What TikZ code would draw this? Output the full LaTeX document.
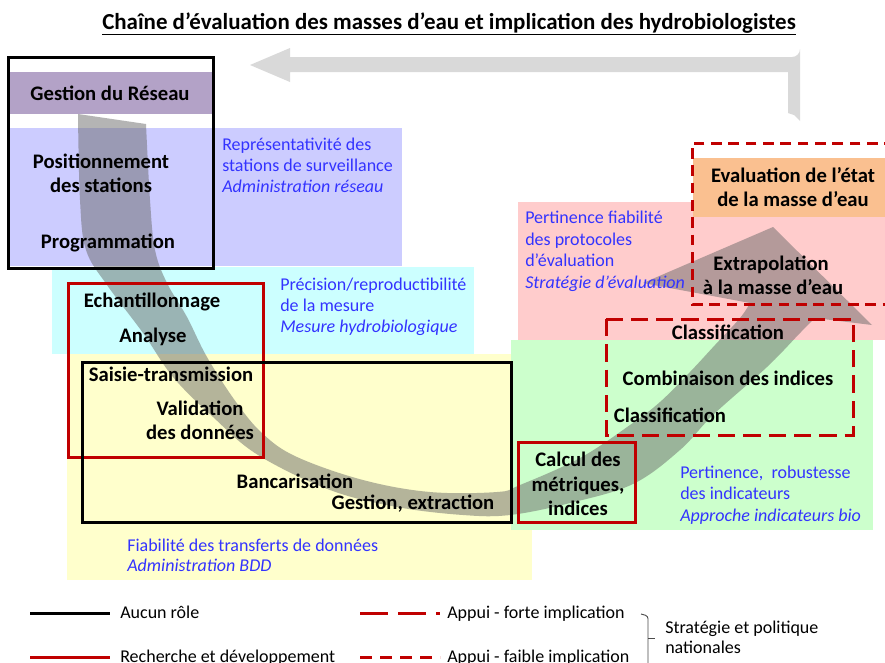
\documentclass[tikz,border=0pt]{standalone}
\usepackage{fontspec}
\setmainfont{Carlito}
\definecolor{lav}{HTML}{CCCCFF}
\definecolor{cyanz}{HTML}{CCFFFF}
\definecolor{yelz}{HTML}{FFFFCC}
\definecolor{pinkz}{HTML}{FFCCCC}
\definecolor{greenz}{HTML}{CCFFCC}
\definecolor{purpband}{HTML}{B3A2C7}
\definecolor{orgband}{HTML}{FAC090}
\definecolor{bluetxt}{HTML}{3333FF}
\definecolor{redl}{HTML}{C00000}
\definecolor{topgrey}{HTML}{D9D9D9}
\definecolor{arrgrey}{HTML}{646464}
\tikzset{
  lbl/.style={font=\fontsize{15.5}{18}\selectfont\bfseries, inner sep=0, anchor=base},
  note/.style={font=\fontsize{13.5}{16}\selectfont, text=bluetxt, inner sep=0, anchor=base west},
  noteit/.style={note, font=\fontsize{13.5}{16}\selectfont\itshape},
  legtxt/.style={font=\fontsize{13.5}{16}\selectfont, inner sep=0, anchor=base west},
  blackbox/.style={draw=black, line width=2.25pt},
  redbox/.style={draw=redl, line width=2.25pt},
  strongdash/.style={draw=redl, line width=2.25pt, dash pattern=on 13pt off 6pt},
  weakdash/.style={draw=redl, line width=2.25pt, dash pattern=on 8pt off 5pt},
}
\begin{document}
\begin{tikzpicture}[x=0.75pt,y=-0.75pt]
\useasboundingbox (0,0) rectangle (885,662);
\clip (0,0) rectangle (885,662);
\fill[white] (0,0) rectangle (885,662);
% zones
\fill[lav] (10,128) rectangle (402,266);
\fill[cyanz] (52,267) rectangle (474,354);
\fill[yelz] (67,354) rectangle (532,580);
\fill[pinkz] (518,202) rectangle (890,340);
\fill[greenz] (511,340) rectangle (873,530);
\fill[purpband] (10,72) rectangle (213,114);
\fill[orgband] (693,158) rectangle (890,217);
% top grey return arrow
\fill[topgrey] (250,65) -- (290,48) -- (290,57) -- (792,57)
  arc[start angle=90, end angle=0, radius=8] -- (800,121) -- (794,115) -- (788,113)
  -- (788,72) -- (290,72) -- (290,82) -- cycle;
% big curved arrow
\fill[arrgrey, fill opacity=0.48] (78,114) -- plot[smooth, tension=0.6] coordinates {(78,114) (80,200) (86,250) (107,285) (143,333) (173,377) (213,417) (258,455) (330,490) (397,507) (463,515) (510,515) (570,503) (633,484) (680,450) (713,415) (767,367) (800,333) (815,318)}
  -- (872,325) -- (773,227) -- (643,283) -- (750,303)
  -- plot[smooth, tension=0.6] coordinates {(750,303) (740,318) (715,345) (690,372) (660,402) (630,425) (580,458) (520,485) (497,492) (430,492) (363,480) (297,457) (263,434) (236,402) (207,357) (187,317) (167,283) (155,250) (150,200) (146,124)}
  -- cycle;
% boxes
\draw[blackbox] (8,57) rectangle (213,268);
\draw[redbox] (68,283) rectangle (263,457);
\draw[blackbox] (82,362) rectangle (511,522);
\draw[redbox] (518,442) rectangle (635,522);
\draw[strongdash] (606,319) rectangle (853,435);
\draw[weakdash] (895,143) -- (692,143) -- (692,304) -- (895,304);
% title
\node[font=\fontsize{17.2}{20}\selectfont\bfseries, inner sep=0, anchor=base] (title) at (449,29) {\underline{Chaîne d’évaluation des masses d’eau et implication des hydrobiologistes}};
% black labels
\node[lbl] (gr) at (110,100) {Gestion du Réseau};
\node[lbl] (pos1) at (101,168) {Positionnement};
\node[lbl] (pos2) at (101,192) {des stations};
\node[lbl] (prog) at (108,248) {Programmation};
\node[lbl] (ech) at (152,307) {Echantillonnage};
\node[lbl] (ana) at (153,342) {Analyse};
\node[lbl] (sai) at (171,381) {Saisie-transmission};
\node[lbl] (val1) at (200,415) {Validation};
\node[lbl] (val2) at (200,439) {des données};
\node[lbl] (banc) at (295,488) {Bancarisation};
\node[lbl] (gest) at (413,509) {Gestion, extraction};
\node[lbl] (eva1) at (793,182) {Evaluation de l’état};
\node[lbl] (eva2) at (793,206) {de la masse d’eau};
\node[lbl] (ext1) at (771,270) {Extrapolation};
\node[lbl] (ext2) at (773,294) {à la masse d’eau};
\node[lbl] (cla1) at (728,339) {Classification};
\node[lbl] (comb) at (728,385) {Combinaison des indices};
\node[lbl] (cla2) at (670,422) {Classification};
\node[lbl] (cal1) at (578,466) {Calcul des};
\node[lbl] (cal2) at (578,491) {métriques,};
\node[lbl] (cal3) at (578,515) {indices};
% blue notes
\node[note] (n1a) at (222,150) {Représentativité des};
\node[note] (n1b) at (222,171) {stations de surveillance};
\node[noteit] (n1c) at (222,192) {Administration réseau};
\node[note] (n2a) at (280,290) {Précision/reproductibilité};
\node[note] (n2b) at (280,311) {de la mesure};
\node[noteit] (n2c) at (280,332) {Mesure hydrobiologique};
\node[note] (n3a) at (127,551) {Fiabilité des transferts de données};
\node[noteit] (n3b) at (127,571) {Administration BDD};
\node[note] (n4a) at (525,223) {Pertinence fiabilité};
\node[note] (n4b) at (525,245) {des protocoles};
\node[note] (n4c) at (525,266) {d’évaluation};
\node[noteit] (n4d) at (525,288) {Stratégie d’évaluation};
\node[note] (n5a) at (680,478) {Pertinence,\ \ robustesse};
\node[note] (n5b) at (680,499) {des indicateurs};
\node[noteit] (n5c) at (680,521) {Approche indicateurs bio};
% legend
\coordinate (l1a) at (30,613); \coordinate (l1b) at (110,613);
\coordinate (l2a) at (30,657); \coordinate (l2b) at (110,657);
\coordinate (l3a) at (360,613); \coordinate (l3b) at (440,613);
\coordinate (l4a) at (360,657); \coordinate (l4b) at (440,657);
\draw[black, line width=2.25pt] (l1a) -- (l1b);
\draw[redl, line width=2.25pt] (l2a) -- (l2b);
\draw[redl, line width=2.25pt, dash pattern=on 21pt off 7.5pt] (l3a) -- (l3b);
\draw[redl, line width=2.25pt, dash pattern=on 9pt off 6pt] (l4a) -- (l4b);
\node[legtxt] (lg1) at (120,618) {Aucun rôle};
\node[legtxt] (lg2) at (120,662) {Recherche et développement};
\node[legtxt] (lg3) at (447,618) {Appui - forte implication};
\node[legtxt] (lg4) at (447,662) {Appui - faible implication};
\node[legtxt] (lg5) at (665,633) {Stratégie et politique};
\node[legtxt] (lg6) at (665,653) {nationales};
\coordinate (br1) at (641,614); \coordinate (br2) at (648,616);
\coordinate (br3) at (648,668); \coordinate (br4) at (648,638); \coordinate (br5) at (655,638);
\draw[gray!60!black, line width=0.7pt, rounded corners=2pt] (br1) -- (br2) -- (br3);
\draw[gray!60!black, line width=0.7pt] (br4) -- (br5);
\end{tikzpicture}
\end{document}
